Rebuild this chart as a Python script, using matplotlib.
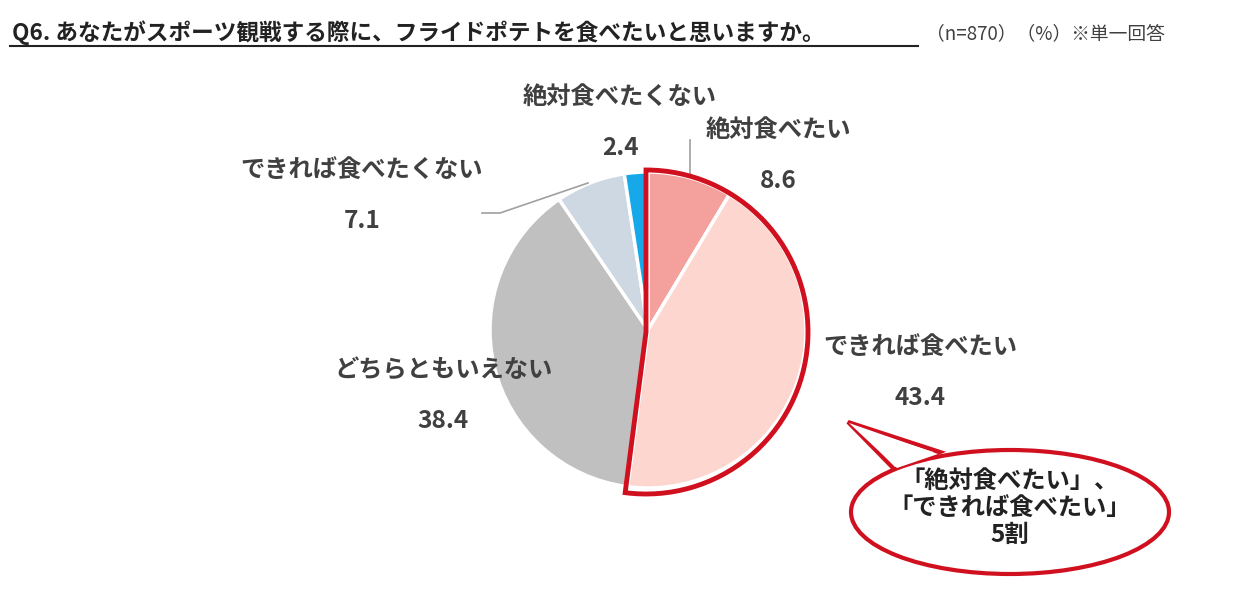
import matplotlib
matplotlib.use("Agg")
import matplotlib.pyplot as plt
from matplotlib.patches import Wedge, Ellipse, Polygon

plt.rcParams['font.family'] = ['Noto Sans CJK JP', 'DejaVu Sans']

categories = ["絶対食べたい", "できれば食べたい", "どちらともいえない", "できれば食べたくない", "絶対食べたくない"]
values = [8.6, 43.4, 38.4, 7.1, 2.4]
colors = ["#F4A19D", "#FDD6CF", "#C0C0C0", "#CDD8E3", "#16A8E9"]
label_pos = [(778, 130), (920, 347), (443, 370), (362, 170), (620, 97)]

W, H = 1237, 589
fig = plt.figure(figsize=(W/100, H/100), dpi=100)
ax = fig.add_axes([0, 0, 1, 1])

cx, cy, r = 648, 330, 158
ax.pie(values, colors=colors, startangle=-90, counterclock=True, center=(cx, cy), radius=r,
       wedgeprops=dict(edgecolor='white', linewidth=2.5), frame=True)
ax.set_xlim(0, W); ax.set_ylim(H, 0); ax.axis('off'); ax.set_aspect('equal')

share = (values[0] + values[1]) / sum(values)
ax.add_patch(Wedge((cx - 2, cy + 2), r + 4, -90, -90 + share * 360, facecolor='none',
                   edgecolor='#D0101E', linewidth=3.5, zorder=5))

tc = '#404040'
for cat, v, (x, y) in zip(categories, values, label_pos):
    ax.text(x, y, cat, ha='center', va='center', fontsize=17.5, fontweight='bold', color=tc)
    ax.text(x, y + 51, f"{v:.1f}", ha='center', va='center', fontsize=17.5, fontweight='bold', color=tc)

ax.plot([690, 690], [140, 174], color='#A0A0A0', lw=1.2)
ax.plot([482, 500, 588], [213, 213, 183], color='#A0A0A0', lw=1.2)

ax.text(12, 33, "Q6. あなたがスポーツ観戦する際に、フライドポテトを食べたいと思いますか。",
        ha='left', va='center', fontsize=16.3, fontweight='bold', color='#222222')
ax.plot([10, 918], [46, 46], color='#222222', lw=1.5)
ax.text(926, 34, "（n=870）（%）※単一回答", ha='left', va='center', fontsize=13.5, color='#404040')

ax.add_patch(Polygon([[848, 422], [940, 452], [895, 470]], closed=True, facecolor='white',
                     edgecolor='#D0101E', lw=3, zorder=6))
ax.add_patch(Ellipse((1010, 512), 318, 124, facecolor='white', edgecolor='#D0101E', lw=3, zorder=7))
ax.add_patch(Polygon([[849, 423], [938, 454], [897, 468]], closed=True, facecolor='white',
                     edgecolor='none', zorder=8))
ax.text(1010, 508, "「絶対食べたい」、\n「できれば食べたい」\n5割", ha='center', va='center',
        fontsize=17.5, fontweight='bold', color='#222222', linespacing=1.15, zorder=9)

fig.savefig("out.png", dpi=100)
